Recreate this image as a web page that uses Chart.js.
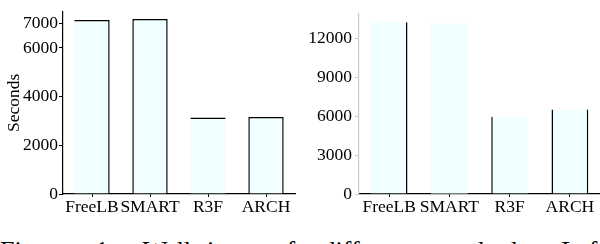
<!DOCTYPE html>
<html>
<head>
<meta charset="utf-8">
<script src="https://cdn.jsdelivr.net/npm/chart.js@4/dist/chart.umd.min.js"></script>
<style>
  html, body { margin: 0; padding: 0; background: #fff; overflow: hidden; }
  body { width: 600px; height: 244px; position: relative; }
  .box { position: absolute; top: 0; width: 300px; height: 215px; }
  #caption {
    position: absolute; left: 0; top: 238px; white-space: nowrap;
    font-family: "Liberation Serif", serif; font-size: 26px; line-height: 26px;
    word-spacing: 21px; color: #000;
  }
</style>
</head>
<body>
<div class="box" style="left:0"><canvas id="graph1"></canvas></div>
<div class="box" style="left:300px"><canvas id="graph2"></canvas></div>
<div id="caption">Figure 1: Wall-time of different methods. Left</div>
<script>
// donnees
var categories = ['FreeLB', 'SMART', 'R3F', 'ARCH']
var leftSeconds = [7150, 7190, 3140, 3165]
var rightSeconds = [13230, 13110, 5950, 6510]
var leftTicks = [0, 2000, 4000, 6000, 7000]
var rightTicks = [0, 3000, 6000, 9000, 12000]
var leftMax = 7500
var rightMax = 13900

var serif = { family: 'Liberation Serif', size: 17.5 }
var fill = '#f0ffff'

function makeConfig(values, ticks, max, opts) {
    return {
        type: 'bar',
        data: {
            labels: categories,
            datasets: [{
                data: values,
                backgroundColor: fill,
                borderColor: '#000',
                borderWidth: opts.borders,
                borderSkipped: false,
                categoryPercentage: 1,
                barPercentage: 0.61
            }]
        },
        options: {
            responsive: true,
            maintainAspectRatio: false,
            animation: false,
            layout: { padding: { top: 2, right: opts.padRight, left: 0, bottom: 0 } },
            plugins: { legend: { display: false }, tooltip: { enabled: false } },
            scales: {
                x: {
                    afterFit: function (s) { s.height = 21 },
                    grid: { drawOnChartArea: false, offset: false, tickLength: 3, color: '#000' },
                    border: { color: '#000', width: 1.2 },
                    ticks: { font: serif, color: '#000', padding: 0, autoSkip: false, maxRotation: 0 }
                },
                y: {
                    min: 0,
                    max: max,
                    afterFit: function (s) { s.width = opts.yWidth },
                    afterBuildTicks: function (s) { s.ticks = ticks.map(function (v) { return { value: v } }) },
                    grid: { drawOnChartArea: false, tickLength: 4, color: opts.axisColor },
                    border: { color: opts.axisColor, width: 1.2 },
                    ticks: { font: serif, color: '#000', padding: opts.tickPad, callback: function (v) { return String(v) } },
                    title: opts.title ? { display: true, text: opts.title, font: serif, color: '#000' } : { display: false }
                }
            }
        }
    }
}

/*Création graphs*/
var graph1 = new Chart(document.getElementById('graph1').getContext('2d'), makeConfig(leftSeconds, leftTicks, leftMax, {
    yWidth: 63, padRight: 5, axisColor: '#000', tickPad: 1, title: 'Seconds',
    borders: [
        { top: 1.5, right: 1.5, left: 0, bottom: 0 },
        { top: 1.5, right: 1.5, left: 1.5, bottom: 0 },
        { top: 1.5, right: 0, left: 0, bottom: 0 },
        { top: 1.5, right: 1.5, left: 1.5, bottom: 0 }
    ]
}))

var graph2 = new Chart(document.getElementById('graph2').getContext('2d'), makeConfig(rightSeconds, rightTicks, rightMax, {
    yWidth: 59, padRight: 0, axisColor: '#cccccc', tickPad: 3, title: null,
    borders: [
        { top: 0, right: 1.5, left: 0, bottom: 0 },
        { top: 0, right: 0, left: 0, bottom: 0 },
        { top: 0, right: 0, left: 1.5, bottom: 0 },
        { top: 0, right: 1.5, left: 1.5, bottom: 0 }
    ]
}))
</script>
</body>
</html>
